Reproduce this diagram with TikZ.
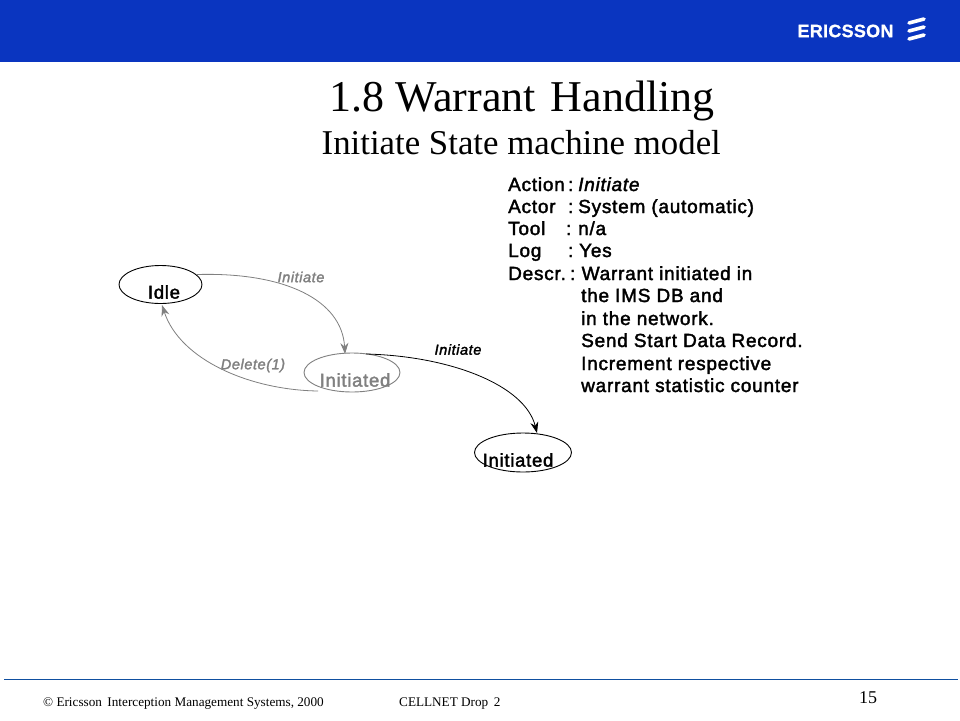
\documentclass[tikz,border=0pt]{standalone}
\usepackage{fontspec}
\setmainfont{Liberation Serif}
\setsansfont{Liberation Sans}
\newfontfamily\bodyfont[FakeBold=2,LetterSpace=4]{Liberation Sans}
\newfontfamily\bodyitalic[FakeBold=2,LetterSpace=4]{Liberation Sans Italic}
\newfontfamily\brandfont[FakeBold=0.8,LetterSpace=1.5]{Liberation Sans Bold}
\usetikzlibrary{arrows.meta,shapes.geometric}
\definecolor{hdrblue}{HTML}{0A35C0}
\definecolor{ruleblue}{HTML}{0F4FA0}
\definecolor{fadegray}{HTML}{808080}
\tikzset{
  statenode/.style={draw=black,ellipse,inner sep=0pt,line width=0.9pt},
  fadestate/.style={draw=fadegray,ellipse,inner sep=0pt,line width=0.9pt},
  statetext/.style={font=\bodyfont\fontsize{18.5}{18}\selectfont,inner sep=0pt},
  edgetext/.style={font=\bodyitalic\fontsize{14.5}{14}\selectfont,inner sep=0pt},
  arrowline/.style={line width=0.8pt,-{Stealth[length=11pt,width=8pt]}},
  bodytext/.style={font=\bodyfont\fontsize{19}{18}\selectfont,anchor=base west,inner sep=0pt},
  foot/.style={font=\fontsize{13.2}{13}\selectfont,anchor=base west,inner sep=0pt},
  stripe/.style={line width=3.6pt,white,line cap=round}
}
\newcommand{\bodyhead}[3]{\makebox[#1pt][l]{#2}\makebox[#3pt][l]{:}}
\begin{document}
\begin{tikzpicture}[x=1pt,y=-1pt]
\useasboundingbox (0,0) rectangle (960,720);
\fill[white] (0,0) rectangle (960,720);
\fill[hdrblue] (0,0) rectangle (960,62);
\node[white,font=\brandfont\fontsize{18}{18}\selectfont,anchor=center,inner sep=0pt] (brand) at (845.5,31) {ERICSSON};
\draw[stripe] (909,23) -- (924,19);
\draw[stripe] (909,31) -- (924,27);
\draw[stripe] (909,39) -- (924,35);
\node[font=\fontsize{44}{44}\selectfont,anchor=base west,inner sep=0pt] (title) at (329,111) {1.8 Warrant\hspace{4pt} Handling};
\node[font=\fontsize{34.8}{35}\selectfont,anchor=base west,inner sep=0pt] (subtitle) at (321.5,154.5) {Initiate State machine model};
\node[bodytext] (b1) at (508,191) {\bodyhead{60}{Action}{10}{\bodyitalic Initiate}};
\node[bodytext] (b2) at (508,213) {\bodyhead{60}{Actor}{10}System (automatic)};
\node[bodytext] (b3) at (508,235) {\bodyhead{58}{Tool}{12}n/a};
\node[bodytext] (b4) at (508,257) {\bodyhead{60}{Log}{11}Yes};
\node[bodytext] (b5) at (508,280) {\bodyhead{62}{Descr.}{11.5}Warrant initiated in};
\node[bodytext] (b6) at (581,302) {the IMS DB and};
\node[bodytext] (b7) at (581,325) {in the network.};
\node[bodytext] (b8) at (581,347) {Send Start Data Record.};
\node[bodytext] (b9) at (581,370) {Increment respective};
\node[bodytext] (b10) at (581,392) {warrant statistic counter};
\node[statenode,minimum width=83pt,minimum height=38pt] (idle) at (160.5,284.5) {};
\node[fadestate,minimum width=96pt,minimum height=39pt] (initA) at (352,372.5) {};
\node[statenode,minimum width=97pt,minimum height=39pt] (initB) at (523,452.5) {};
\node[statetext] (idleT) at (164,292) {Idle};
\node[statetext,text=fadegray] (initAT) at (355,380) {Initiated};
\node[statetext] (initBT) at (518,460) {Initiated};
\coordinate (idleOut) at (197,274.5);
\coordinate (initAIn) at (345,354);
\coordinate (initAOut) at (318,391);
\coordinate (idleIn) at (162,305);
\coordinate (initAOut2) at (366,354);
\coordinate (initBIn) at (537,433);
\draw[arrowline,fadegray] (idleOut) .. controls (285,272) and (342,300) .. (initAIn);
\draw[arrowline,fadegray] (initAOut) .. controls (250,390) and (180,360) .. (idleIn);
\draw[arrowline,black] (initAOut2) .. controls (450,356) and (525,385) .. (initBIn);
\node[edgetext,text=fadegray] (e1) at (301,277) {Initiate};
\node[edgetext,text=fadegray] (e2) at (253,365.5) {Delete(1)};
\node[edgetext] (e3) at (458,349.5) {Initiate};
\draw[ruleblue,line width=1pt] (4,679.5) -- (958,679.5);
\node[foot] (f1) at (43,706) {© Ericsson\, Interception Management Systems, 2000};
\node[foot] (f2) at (399,706) {CELLNET Drop\, 2};
\node[font=\fontsize{18}{18}\selectfont,anchor=base west,inner sep=0pt] (pg) at (859,703.5) {15};
\end{tikzpicture}
\end{document}
